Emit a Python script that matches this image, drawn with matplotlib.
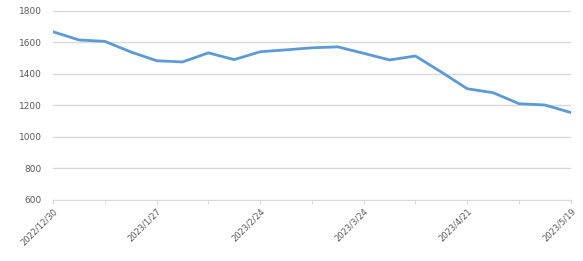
import matplotlib.pyplot as plt

dates = ['2022/12/30', '2023/1/6', '2023/1/13', '2023/1/20', '2023/1/27',
         '2023/2/3', '2023/2/10', '2023/2/17', '2023/2/24', '2023/3/3',
         '2023/3/10', '2023/3/17', '2023/3/24', '2023/3/31', '2023/4/7',
         '2023/4/14', '2023/4/21', '2023/4/28', '2023/5/5', '2023/5/12',
         '2023/5/19']
values = [1668, 1616, 1607, 1540, 1484, 1476, 1534, 1491, 1541, 1553,
          1566, 1572, 1531, 1489, 1514, 1412, 1306, 1281, 1211, 1203, 1155]
yticks = [600, 800, 1000, 1200, 1400, 1600, 1800]

fig = plt.figure(figsize=(5.83, 2.61), dpi=100)
ax = fig.add_axes([0.091, 0.234, 0.888, 0.724])
x = list(range(len(dates)))
ax.plot(x, values, color='#5B9BD5', linewidth=2.0, solid_joinstyle='round')

ax.set_ylim(600, 1800)
ax.set_yticks(yticks)
ax.set_xlim(0, len(dates) - 1)
ax.set_xticks(x[::4])
ax.set_xticklabels(dates[::4], rotation=45, ha='right', rotation_mode='anchor')
ax.set_xticks(x[2::4], minor=True)
ax.grid(axis='y', color='#D9D9D9', linewidth=1.0)
ax.set_axisbelow(True)
for s in ['top', 'right', 'left']:
    ax.spines[s].set_visible(False)
ax.spines['bottom'].set_color('#D9D9D9')
ax.tick_params(axis='y', length=0, labelsize=6.5, labelcolor='#595959', pad=8)
ax.tick_params(axis='x', which='both', length=3, color='#D9D9D9',
               labelsize=6, labelcolor='#595959', pad=2)

plt.savefig('out.png', dpi=100)
